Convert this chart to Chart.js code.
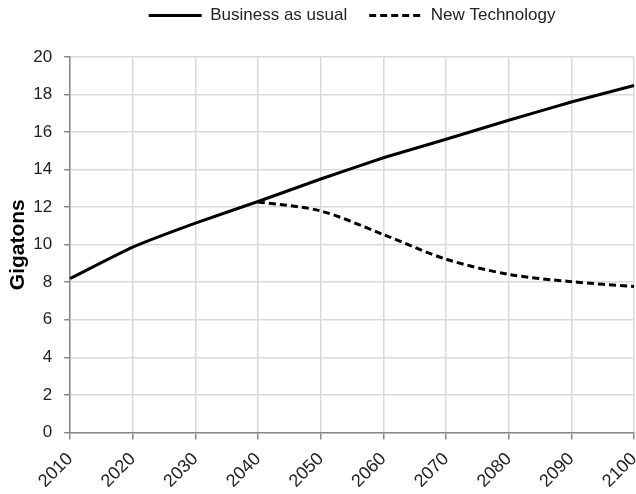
<!DOCTYPE html>
<html>
<head>
<meta charset="utf-8">
<script src="https://cdn.jsdelivr.net/npm/chart.js@4/dist/chart.umd.min.js"></script>
<style>
  body { margin: 0; background: #fff; }
  #wrap { width: 636px; height: 494px; }
</style>
</head>
<body>
<div id="wrap"><canvas id="gigatonsChart"></canvas></div>
<script>
// 年份 (X 軸)
const years = ["2010", "2020", "2030", "2040", "2050", "2060", "2070", "2080", "2090", "2100"];
// Business as usual
const businessAsUsual = [8.2, 9.87, 11.15, 12.3, 13.5, 14.63, 15.62, 16.63, 17.6, 18.48];
// New Technology (starts at 2040)
const newTechnology = [null, null, null, 12.28, 11.8, 10.54, 9.23, 8.42, 8.03, 7.77];
// Y 軸刻度
const yTicks = [0, 2, 4, 6, 8, 10, 12, 14, 16, 18, 20];

const fontFamily = "'Liberation Sans', Arial, sans-serif";
const chartElm = document.querySelector("#gigatonsChart");

// 圖例下方多留一些空間
const legendGapPlugin = {
  id: "legendGap",
  beforeInit(chart) {
    const originalFit = chart.legend.fit;
    chart.legend.fit = function fit() {
      originalFit.bind(chart.legend)();
      this.height += 23;
    };
  },
};

const data = {
  labels: years,
  datasets: [
    {
      label: "Business as usual",
      data: businessAsUsual,
      borderColor: "#000",
      backgroundColor: "#000",
      borderWidth: 3,
      pointRadius: 0,
      tension: 0.15,
      fill: false,
    },
    {
      label: "New Technology",
      data: newTechnology,
      borderColor: "#000",
      backgroundColor: "#000",
      borderWidth: 3,
      borderDash: [7, 4],
      pointRadius: 0,
      tension: 0.3,
      fill: false,
    },
  ],
};

const config = {
  type: "line",
  data: data,
  plugins: [legendGapPlugin],
  options: {
    responsive: true,
    maintainAspectRatio: false,
    animation: false,
    layout: { padding: { left: 6, right: 2, top: -15, bottom: -7 } },
    plugins: {
      tooltip: { enabled: false },
      legend: {
        position: "top",
        fullSize: false, // 圖例置中於繪圖區
        labels: {
          usePointStyle: true,
          pointStyle: "line",
          pointStyleWidth: 53,
          boxWidth: 53,
          boxHeight: 14,
          padding: 22,
          color: "#222",
          font: { family: fontFamily, size: 17 },
          // 讓圖例線條也顯示虛線
          generateLabels: (chart) =>
            Chart.defaults.plugins.legend.labels
              .generateLabels(chart)
              .map((item, i) => ({
                ...item,
                lineDash: chart.data.datasets[i].borderDash || [],
              })),
        },
      },
    },
    scales: {
      x: {
        grid: { color: "#d9d9d9", lineWidth: 1.5, tickLength: 7, tickColor: "#888" },
        border: { color: "#888", width: 1.5 },
        ticks: {
          color: "#222",
          font: { family: fontFamily, size: 18 },
          minRotation: 45,
          maxRotation: 45,
          padding: 9,
        },
        afterFit: (scale) => {
          // 斜體標籤不需要左右留白
          scale.paddingLeft = 0;
          scale.paddingRight = 0;
        },
      },
      y: {
        min: 0,
        max: 20,
        afterBuildTicks: (axis) => {
          axis.ticks = yTicks.map((v) => ({ value: v }));
        },
        grid: { color: "#d9d9d9", lineWidth: 1.5, tickLength: 6, tickColor: "#888" },
        border: { color: "#888", width: 1.5 },
        ticks: {
          color: "#222",
          font: { family: fontFamily, size: 17 },
          padding: 12,
        },
        title: {
          display: true,
          text: "Gigatons",
          color: "#000",
          font: { family: fontFamily, size: 21, weight: "bold" },
          padding: { top: 0, bottom: -10 },
        },
      },
    },
  },
};

const gigatonsChart = new Chart(chartElm, config);
</script>
</body>
</html>
